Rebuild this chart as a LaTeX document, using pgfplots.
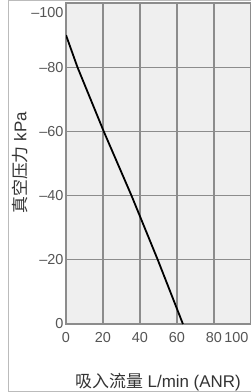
\documentclass[border=0pt]{standalone}
\usepackage{pgfplots}
\pgfplotsset{compat=1.18}
\usepackage{fontspec}
\setmainfont{Liberation Sans}
\newfontfamily\cjk{Noto Sans CJK SC}
\definecolor{plotbg}{HTML}{EFEFEF}
\definecolor{gridc}{HTML}{8C8C8C}
\definecolor{framec}{HTML}{BBBBBB}
\definecolor{tickc}{HTML}{555555}
\definecolor{labc}{HTML}{333333}
\begin{document}
\begin{tikzpicture}[x=1bp,y=1bp]
\draw[framec, line width=1bp] (8.5,-5) -- (8.5,391.5) -- (260,391.5);
\draw[framec, line width=1bp] (8.5,1) -- (260,1);
\begin{axis}[
  at={(66bp,68bp)}, anchor=south west,
  scale only axis, width=185bp, height=321bp,
  xmin=0, xmax=100, ymin=-100, ymax=0, y dir=reverse,
  axis background/.style={fill=plotbg},
  axis line style={draw=gridc, line width=1.2bp},
  grid=major, major grid style={draw=gridc, line width=1.3bp},
  major tick length=0,
  xtick={0,20,40,60,80}, xticklabels={0,20,40,60,80},
  ytick={0,-20,-40,-60,-80}, yticklabels={0,–20,–40,–60,–80},
  extra x ticks={100}, extra x tick labels={100},
  extra x tick style={grid=none, xticklabel style={anchor=north east, xshift=1bp}},
  extra y ticks={-100}, extra y tick labels={–100},
  extra y tick style={grid=none, yticklabel style={anchor=north east, yshift=-1bp}},
  tick label style={font=\fontsize{14.5}{14.5}\selectfont, text=tickc},
  xticklabel style={yshift=-5bp},
  yticklabel style={xshift=1bp},
]
\addplot[black, line width=1.8bp] coordinates {
  (0,-90) (6.2,-80) (20.4,-60) (35.4,-40) (49.6,-20) (63.2,0)
};
\end{axis}
\node[rotate=90, text=labc, font=\fontsize{17}{17}\selectfont] at (20,229) {{\cjk 真空压力} kPa};
\node[text=labc, font=\fontsize{17}{17}\selectfont] at (158,10) {{\cjk 吸入流量} L/min (ANR)};
\pgfresetboundingbox
\useasboundingbox (0,0) rectangle (251,392);
\end{tikzpicture}
\end{document}
